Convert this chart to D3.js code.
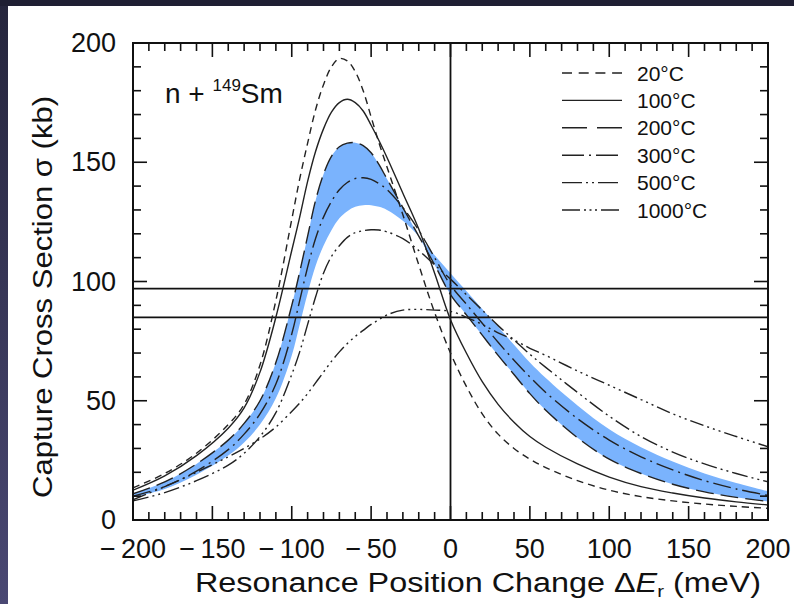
<!DOCTYPE html>
<html><head><meta charset="utf-8">
<script src="https://cdn.jsdelivr.net/npm/d3@7"></script>
<style>
html,body{margin:0;padding:0;background:#2a2a45;}
svg{display:block;}
text{font-family:"Liberation Sans",Arial,Helvetica,sans-serif;fill:#111;}
</style></head>
<body><svg id="c" width="794" height="604"></svg>
<script>
// ---- data ----
const shiftMeV = [-200,-180,-160,-140,-130,-120,-110,-100,-95,-90,-85,-80,-75,-70,-65,-60,-55,-50,-45,-40,-30,-20,-10,0,10,20,30,40,50,60,80,100,120,140,160,180,200];
const t20   = [13.5,19.5,28,40,48.5,65,92,126,143,158,172,182.5,190,193.5,192.5,188,180,169,158,148,128,107,87,70,56,44.5,36,30,25.5,22,16.5,12.5,9.8,8,6.7,5.7,4.9];
const t100  = [12.5,18.5,27,38.5,47,62,85,113,127,142,154.5,164,171,175,176.4,175,171.5,165.5,159,152,137,122,103.5,84,70,58,48.5,41,35,30.5,23.5,18,14,11.3,9.2,7.6,6.3];
const t200  = [11,16,23.5,33.5,40.5,50,66,90,104,119,134,145,152.5,156.5,158,158.2,157,154,149,143,131,119,107,94.5,86,77.5,69,61,53,46,34.5,25.5,19.5,15,11.8,9.5,7.8];
const t300  = [10,14,20.5,29.5,36,44.5,57,78,92,106,118,127,133.5,138.5,141.5,143.2,143.5,142.8,141,138.5,131,121.5,110,98.5,90.5,82.5,74.5,67,60,53.5,42.5,33.5,26.5,21,16.5,13,10.3];
const bandEdge = [9.5,13,19,27,32.5,40,51,69,82,95,106.5,115,121.5,126.5,129.5,131.3,132,132,131.3,130,125.5,119,111,103.5,96,88.5,81,73.5,66,59.5,48,38,30.5,24.5,19.5,15.5,12];
const t500  = [8,11.5,16.5,23,28,35,45,61,70.5,82,93.5,103.5,110.5,115,118.5,120.5,121.3,121.7,121.6,120.8,118,113,107,101,94.5,88,81.5,75.5,69.5,64,53.5,43.5,35,28.5,23.5,19.5,16];
const t1000 = [8.5,14,20,26.5,30,34,39,45.5,49,53,57.5,62,66.5,70.5,74,77,79.5,82,84,86,88,88.3,88,87.5,85,82,78.5,75.5,72,69,62.5,56.5,50.5,44.5,39.5,35,30.7];
const refLevels = [97, 85];
const xTicks = [-200,-150,-100,-50,0,50,100,150,200];
const yTicks = [0,50,100,150,200];
const legendLabels = ["20°C","100°C","200°C","300°C","500°C","1000°C"];

// ---- layout ----
const svg = d3.select("#c");
const L=133, R=768, T=43, B=520;
const x = d3.scaleLinear().domain([-200,200]).range([L,R]);
const y = d3.scaleLinear().domain([0,200]).range([B,T]);

// frame background
const defs = svg.append("defs");
const g1 = defs.append("linearGradient").attr("id","side").attr("x1",0).attr("y1",0).attr("x2",0).attr("y2",1);
g1.append("stop").attr("offset","0%").attr("stop-color","#25253c");
g1.append("stop").attr("offset","100%").attr("stop-color","#4a4873");
svg.append("rect").attr("width",794).attr("height",604).attr("fill","url(#side)");
svg.append("rect").attr("x",0).attr("y",0).attr("width",794).attr("height",6).attr("fill","#1f1f33");
svg.append("rect").attr("x",8).attr("y",6).attr("width",786).attr("height",598).attr("fill","#fff");

defs.append("clipPath").attr("id","plot").append("rect").attr("x",L).attr("y",T).attr("width",R-L).attr("height",B-T);
const pg = svg.append("g").attr("clip-path","url(#plot)");

// band
const bandData = shiftMeV.map((d,i)=>({x:d,a:t200[i],b:bandEdge[i]}));
pg.append("path").datum(bandData)
  .attr("d", d3.area().x(d=>x(d.x)).y0(d=>y(d.a)).y1(d=>y(d.b)).curve(d3.curveCatmullRom.alpha(0.5)))
  .attr("fill","#7ab3fd").attr("stroke","none");

// reference lines
refLevels.forEach(v=>{
  pg.append("line").attr("x1",L).attr("x2",R).attr("y1",y(v)).attr("y2",y(v)).attr("stroke","#111").attr("stroke-width",1.8);
});
pg.append("line").attr("x1",x(0)).attr("x2",x(0)).attr("y1",T).attr("y2",B).attr("stroke","#111").attr("stroke-width",1.8);

const series = [
  {v:t20,   dash:"7,5"},
  {v:t100,  dash:null},
  {v:t200,  dash:"18,7"},
  {v:t300,  dash:"18,5,2,5"},
  {v:t500,  dash:"16,4,2,4,2,4"},
  {v:t1000, dash:"14,4,2,4,2,4,2,4"}
];
const line = d3.line().x(d=>x(d[0])).y(d=>y(d[1])).curve(d3.curveCatmullRom.alpha(0.5));
series.forEach(s=>{
  pg.append("path").datum(shiftMeV.map((d,i)=>[d,s.v[i]]))
    .attr("d",line).attr("fill","none").attr("stroke","#222").attr("stroke-width",1.4)
    .attr("stroke-dasharray",s.dash);
});

// axes frame and ticks (inward, all four sides)
const ax = svg.append("g");
ax.append("rect").attr("x",L).attr("y",T).attr("width",R-L).attr("height",B-T).attr("fill","none").attr("stroke","#111").attr("stroke-width",2);
const xMinor = d3.range(-200,201,10), yMinor = d3.range(0,201,10);
xMinor.forEach(v=>{
  const len = v%50===0?14:8;
  ax.append("line").attr("x1",x(v)).attr("x2",x(v)).attr("y1",B).attr("y2",B-len).attr("stroke","#111").attr("stroke-width",1.6);
  ax.append("line").attr("x1",x(v)).attr("x2",x(v)).attr("y1",T).attr("y2",T+len).attr("stroke","#111").attr("stroke-width",1.6);
});
yMinor.forEach(v=>{
  const len = v%50===0?14:8;
  ax.append("line").attr("y1",y(v)).attr("y2",y(v)).attr("x1",L).attr("x2",L+len).attr("stroke","#111").attr("stroke-width",1.6);
  ax.append("line").attr("y1",y(v)).attr("y2",y(v)).attr("x1",R).attr("x2",R-len).attr("stroke","#111").attr("stroke-width",1.6);
});
// tick labels
xTicks.forEach(v=>{
  ax.append("text").attr("x",x(v)).attr("y",558).attr("text-anchor","middle").attr("font-size",27)
    .text(v<0?"\u2212\u2009"+Math.abs(v):String(v));
});
yTicks.forEach(v=>{
  ax.append("text").attr("x",116).attr("y",y(v)+9).attr("text-anchor","end").attr("font-size",27).text(v);
});
// axis titles
const xt = svg.append("text").attr("x",478).attr("y",592).attr("text-anchor","middle").attr("font-size",27)
  .attr("textLength",566).attr("lengthAdjust","spacingAndGlyphs");
xt.append("tspan").text("Resonance Position Change \u0394");
xt.append("tspan").attr("font-style","italic").text("E");
xt.append("tspan").attr("font-size",17).attr("dy",5).text("r");
xt.append("tspan").attr("dy",-5).text(" (meV)");
svg.append("text").attr("transform","translate(52,297) rotate(-90)").attr("text-anchor","middle").attr("font-size",27)
  .attr("textLength",402).attr("lengthAdjust","spacingAndGlyphs")
  .text("Capture Cross Section \u03c3 (kb)");

// annotation
const an = svg.append("text").attr("x",165).attr("y",103).attr("font-size",28);
an.append("tspan").text("n + ");
an.append("tspan").attr("font-size",17).attr("dy",-12).text("149");
an.append("tspan").attr("dy",12).text("Sm");

// legend
const lg = svg.append("g");
series.forEach((s,i)=>{
  const yy = 73 + i*27.4;
  lg.append("line").attr("x1",562).attr("x2",622).attr("y1",yy).attr("y2",yy).attr("stroke","#222").attr("stroke-width",1.4).attr("stroke-dasharray",
    [ "10,6.7","", "25,10", "22,5,2,5", "20,4,2,4,2,4", "18,4,2,3.5,2,3.5,2,4"][i] || null);
  lg.append("text").attr("x",637).attr("y",yy+7.5).attr("font-size",21).text(legendLabels[i]);
});
</script></body></html>
